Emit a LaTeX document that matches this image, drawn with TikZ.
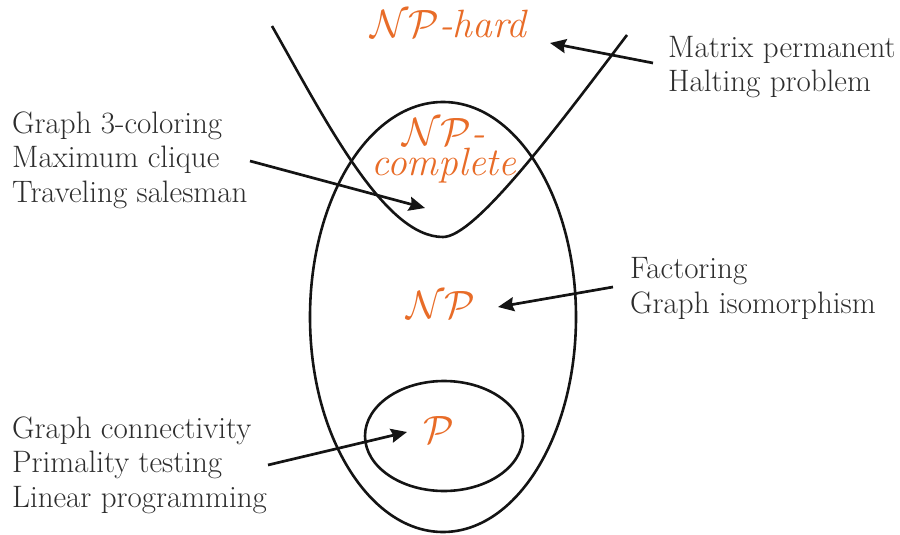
\RequirePackage{fix-cm}
\documentclass[tikz,border=0pt]{standalone}
\usepackage{fontspec}
\usetikzlibrary{arrows.meta}
\definecolor{npor}{RGB}{232,108,40}
\definecolor{ink}{RGB}{20,20,20}
\definecolor{txt}{RGB}{45,45,45}
\begin{document}
\begin{tikzpicture}[x=1pt,y=-1pt,
  setline/.style={line width=2.6pt, draw=ink},
  arr/.style={line width=2.7pt, draw=ink, -{Stealth[length=16pt,width=14pt,inset=2pt]}},
  lbl/.style={font=\fontsize{31}{34.5}\selectfont, text=txt, align=left, inner sep=0pt, anchor=base west},
  cls/.style={font=\fontsize{39.5}{30}\selectfont\itshape, text=npor, inner sep=0pt}]
\useasboundingbox (0,0) rectangle (900,535);
% sets
\draw[setline] (443,317) ellipse [x radius=133, y radius=215];
\draw[setline] (444,436) ellipse [x radius=79, y radius=55];
\draw[setline] (272,26) .. controls (328,125) and (385,237) .. (443,237)
  .. controls (475,237) and (555,130) .. (627,35);
% class labels
\node[cls, anchor=base west] (nphard) at (370,38) {$\mathcal{NP}$-hard};
\node[cls, anchor=base, align=center] (npc) at (444,175) {$\mathcal{NP}$-\\complete};
\node[cls, anchor=base] (np) at (441,318) {$\mathcal{NP}$};
\node[cls, anchor=base] (p) at (439,443) {$\mathcal{P}$};
% problem lists (anchor at baseline of last line)
\node[lbl] (tl) at (12,202) {Graph 3-coloring\\Maximum clique\\Traveling salesman};
\node[lbl] (bl) at (12,507) {Graph connectivity\\Primality testing\\Linear programming};
\node[lbl] (tr) at (668,92) {Matrix permanent\\Halting problem};
\node[lbl] (mr) at (630,313) {Factoring\\Graph isomorphism};
% arrow ends
\coordinate (a1s) at (653,63);  \coordinate (a1e) at (550,43);
\coordinate (a2s) at (250,161); \coordinate (a2e) at (425,208);
\coordinate (a3s) at (613,287); \coordinate (a3e) at (498,307);
\coordinate (a4s) at (268,465); \coordinate (a4e) at (407,432);
\draw[arr] (a1s) -- (a1e);
\draw[arr] (a2s) -- (a2e);
\draw[arr] (a3s) -- (a3e);
\draw[arr] (a4s) -- (a4e);
\end{tikzpicture}
\end{document}
